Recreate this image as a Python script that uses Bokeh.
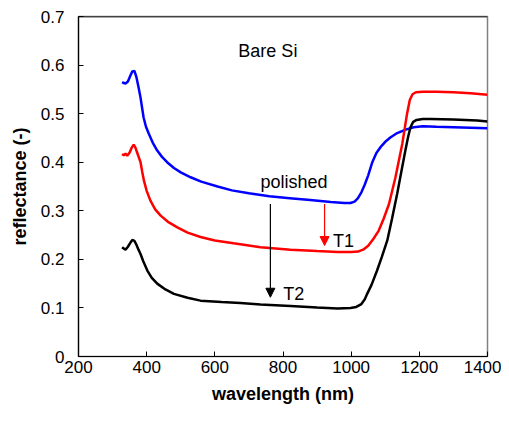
from bokeh.plotting import figure
from bokeh.models import Range1d, FixedTicker, Span, Arrow, NormalHead, Label
from bokeh.embed import file_html
from bokeh.resources import INLINE

# wavelength (nm) / reflectance (-)
wl_polished = [328, 333, 338, 345, 352, 358, 364, 370, 376, 382, 387, 391, 398, 406, 418, 431, 445, 460,
               480, 500, 529, 560, 608, 650, 700, 760, 820, 880, 940, 980, 998, 1010, 1020, 1030, 1040,
               1050, 1062, 1074, 1086, 1100, 1115, 1135, 1160, 1183, 1210, 1250, 1300, 1350, 1400]
r_polished = [0.565, 0.563, 0.562, 0.566, 0.578, 0.587, 0.588, 0.575, 0.555, 0.533, 0.510, 0.492, 0.473,
              0.459, 0.440, 0.424, 0.411, 0.400, 0.388, 0.379, 0.369, 0.360, 0.350, 0.342, 0.336, 0.330,
              0.326, 0.322, 0.318, 0.316, 0.316, 0.319, 0.326, 0.338, 0.354, 0.373, 0.400, 0.419, 0.431,
              0.442, 0.451, 0.460, 0.467, 0.472, 0.474, 0.473, 0.472, 0.471, 0.470]

wl_t1 = [328, 333, 338, 343, 350, 356, 362, 367, 373, 378, 382, 387, 392, 400, 411, 425, 441, 465, 490,
         520, 558, 600, 655, 734, 822, 900, 960, 1000, 1020, 1035, 1050, 1065, 1080, 1095, 1111, 1130,
         1150, 1164, 1172, 1180, 1190, 1210, 1250, 1300, 1350, 1400]
r_t1 = [0.417, 0.414, 0.418, 0.413, 0.420, 0.430, 0.436, 0.430, 0.418, 0.408, 0.400, 0.380, 0.362, 0.341,
        0.321, 0.303, 0.290, 0.276, 0.266, 0.255, 0.246, 0.239, 0.233, 0.225, 0.220, 0.217, 0.215, 0.215,
        0.216, 0.220, 0.228, 0.242, 0.258, 0.283, 0.314, 0.369, 0.438, 0.500, 0.528, 0.540, 0.544, 0.545,
        0.545, 0.544, 0.542, 0.539]

wl_t2 = [328, 333, 338, 345, 352, 358, 364, 370, 376, 382, 390, 402, 415, 431, 455, 480, 520, 558, 620,
         675, 734, 822, 900, 960, 998, 1015, 1030, 1040, 1047, 1060, 1076, 1090, 1106, 1120, 1135, 1147,
         1159, 1167, 1174, 1182, 1192, 1210, 1233, 1300, 1370, 1400]
r_t2 = [0.225, 0.222, 0.220, 0.226, 0.234, 0.240, 0.238, 0.230, 0.220, 0.211, 0.196, 0.177, 0.162, 0.150,
        0.138, 0.129, 0.121, 0.115, 0.112, 0.110, 0.107, 0.104, 0.101, 0.099, 0.100, 0.102, 0.108, 0.118,
        0.129, 0.148, 0.177, 0.205, 0.239, 0.284, 0.335, 0.380, 0.424, 0.452, 0.472, 0.483, 0.487, 0.489,
        0.489, 0.488, 0.486, 0.484]

x_ticks = [200, 400, 600, 800, 1000, 1200, 1400]
y_ticks = [0, 0.1, 0.2, 0.3, 0.4, 0.5, 0.6, 0.7]

FONT = "Liberation Sans"

p = figure(width=501, height=422, output_backend="svg", toolbar_location=None,
           x_range=Range1d(200, 1400), y_range=Range1d(0, 0.7),
           min_border_left=78, min_border_right=14, min_border_top=16, min_border_bottom=66)
p.grid.visible = False
p.outline_line_color = "#808080"
p.outline_line_width = 1.5
p.background_fill_color = "white"
p.border_fill_color = "white"

for ax in (p.xaxis[0], p.yaxis[0]):
    ax.axis_line_color = "black"
    ax.axis_line_width = 1.2
    ax.major_tick_in = 5
    ax.major_tick_out = 0
    ax.minor_tick_line_color = None
    ax.major_tick_line_color = "black"
    ax.major_label_text_font = FONT
    ax.major_label_text_font_size = "17px"
    ax.major_label_text_color = "black"
    ax.axis_label_text_font = FONT
    ax.axis_label_text_font_size = "18px"
    ax.axis_label_text_font_style = "bold"
    ax.axis_label_text_color = "black"

p.xaxis.ticker = FixedTicker(ticks=x_ticks)
p.yaxis.ticker = FixedTicker(ticks=y_ticks)
p.yaxis.major_label_overrides = {0: "0"}
p.xaxis.axis_label = "wavelength (nm)"
p.yaxis.axis_label = "reflectance (-)"
p.xaxis.major_label_standoff = 4
p.yaxis.major_label_standoff = 14
p.xaxis.axis_label_standoff = 8
p.yaxis.axis_label_standoff = 8

p.add_layout(Span(location=0.7, dimension="width", line_color="black", line_width=1.5))

p.line(wl_polished, r_polished, line_color="#0000FF", line_width=2.5)
p.line(wl_t1, r_t1, line_color="#FF0000", line_width=2.5)
p.line(wl_t2, r_t2, line_color="black", line_width=2.5)

p.add_layout(Arrow(end=NormalHead(size=9, fill_color="black", line_color="black"),
                   x_start=763, y_start=0.314, x_end=763, y_end=0.122,
                   line_color="black", line_width=1.2))
p.add_layout(Arrow(end=NormalHead(size=9, fill_color="#FF0000", line_color="#FF0000"),
                   x_start=922, y_start=0.314, x_end=922, y_end=0.2285,
                   line_color="#FF0000", line_width=1.2))

for txt, x, y in [("Bare Si", 669, 0.630), ("polished", 734, 0.359), ("T1", 947, 0.237), ("T2", 801, 0.128)]:
    p.add_layout(Label(x=x, y=y, text=txt, text_font=FONT, text_font_size="18px",
                       text_color="black", text_baseline="alphabetic", text_align="left"))

open("out.html", "w").write(file_html(p, INLINE))
